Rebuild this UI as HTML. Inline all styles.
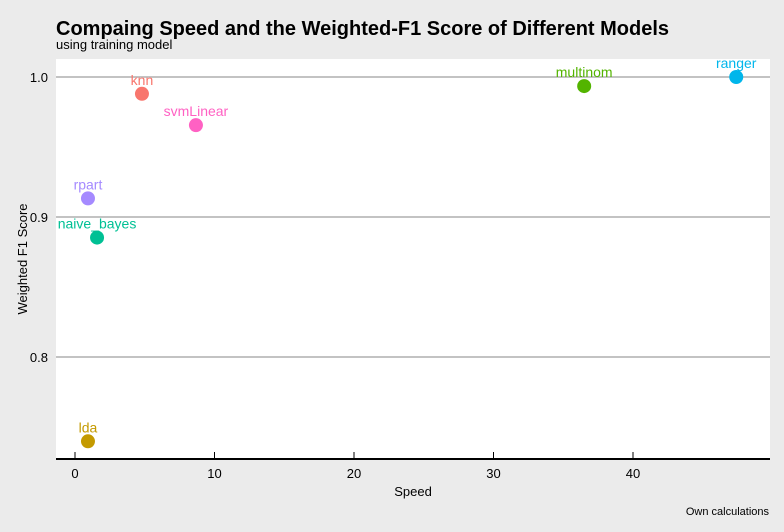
<!DOCTYPE html>
<html><head><meta charset="utf-8">
<style>
body{margin:0;background:#ebebeb;}
svg{display:block;font-family:"Liberation Sans",Arial,sans-serif;}
</style></head>
<body>
<svg id="chart" width="784" height="532">
<rect x="0" y="0" width="784" height="532" fill="#ebebeb"/>
<text x="56" y="35" font-size="20" font-weight="bold" fill="#000">Compaing Speed and the Weighted-F1 Score of Different Models</text>
<text x="56" y="49" font-size="13" fill="#000">using training model</text>
<rect x="56" y="59" width="714" height="400" fill="#fff"/>
<g id="grid"></g>
<line x1="56" y1="459" x2="770" y2="459" stroke="#000" stroke-width="2"/>
<g id="xticks"></g><g id="yticks"></g>
<g id="points"></g>
<text x="413" y="496" font-size="13" text-anchor="middle">Speed</text>
<text transform="translate(27,259) rotate(-90)" font-size="13" text-anchor="middle">Weighted F1 Score</text>
<text x="769" y="515" font-size="11" text-anchor="end">Own calculations</text>
</svg>
<script>
const models=["knn","svmLinear","rpart","naive_bayes","lda","multinom","ranger"];
const speed=[4.8,8.67,0.93,1.58,0.93,36.5,47.4];
const f1=[0.988,0.9656,0.9133,0.8853,0.7398,0.9935,1.0];
const colors=["#f8766d","#ff61c3","#a58aff","#00c094","#c49a00","#53b400","#00b6eb"];
const xTicks=[0,10,20,30,40];
const yTicks=[0.8,0.9,1.0];
const ns="http://www.w3.org/2000/svg";
function sx(v){return 75+v*13.95;}
function sy(v){return 77+(1-v)*1400;}
function mk(t,a,p){const e=document.createElementNS(ns,t);for(const k in a)e.setAttribute(k,a[k]);p.appendChild(e);return e;}
const grid=document.getElementById('grid'),xt=document.getElementById('xticks'),yt=document.getElementById('yticks'),pts=document.getElementById('points');
yTicks.forEach(v=>{
 const l=mk('line',{x1:56,x2:770,y1:sy(v),y2:sy(v),stroke:'#c3c3c3','stroke-width':2},grid);
 
 
 const t=mk('text',{x:48,y:sy(v)+5,'font-size':13,'text-anchor':'end'},yt);
 t.textContent=v.toFixed(1);
 
 
});
xTicks.forEach(v=>{
 const l=mk('line',{x1:sx(v),x2:sx(v),y1:452,y2:459,stroke:'#000','stroke-width':1},xt);
 
 
 const t=mk('text',{x:sx(v),y:478,'font-size':13,'text-anchor':'middle'},xt);
 t.textContent=v;
 
 
});
models.forEach((m,i)=>{
 const c=mk('circle',{cx:sx(speed[i]),cy:sy(f1[i]),r:7,fill:colors[i]},pts);
 
 
 const t=mk('text',{x:sx(speed[i]),y:sy(f1[i])-9,'font-size':14,'text-anchor':'middle',fill:colors[i]},pts);
 t.textContent=m;
 
 
});
</script>
</body></html>
